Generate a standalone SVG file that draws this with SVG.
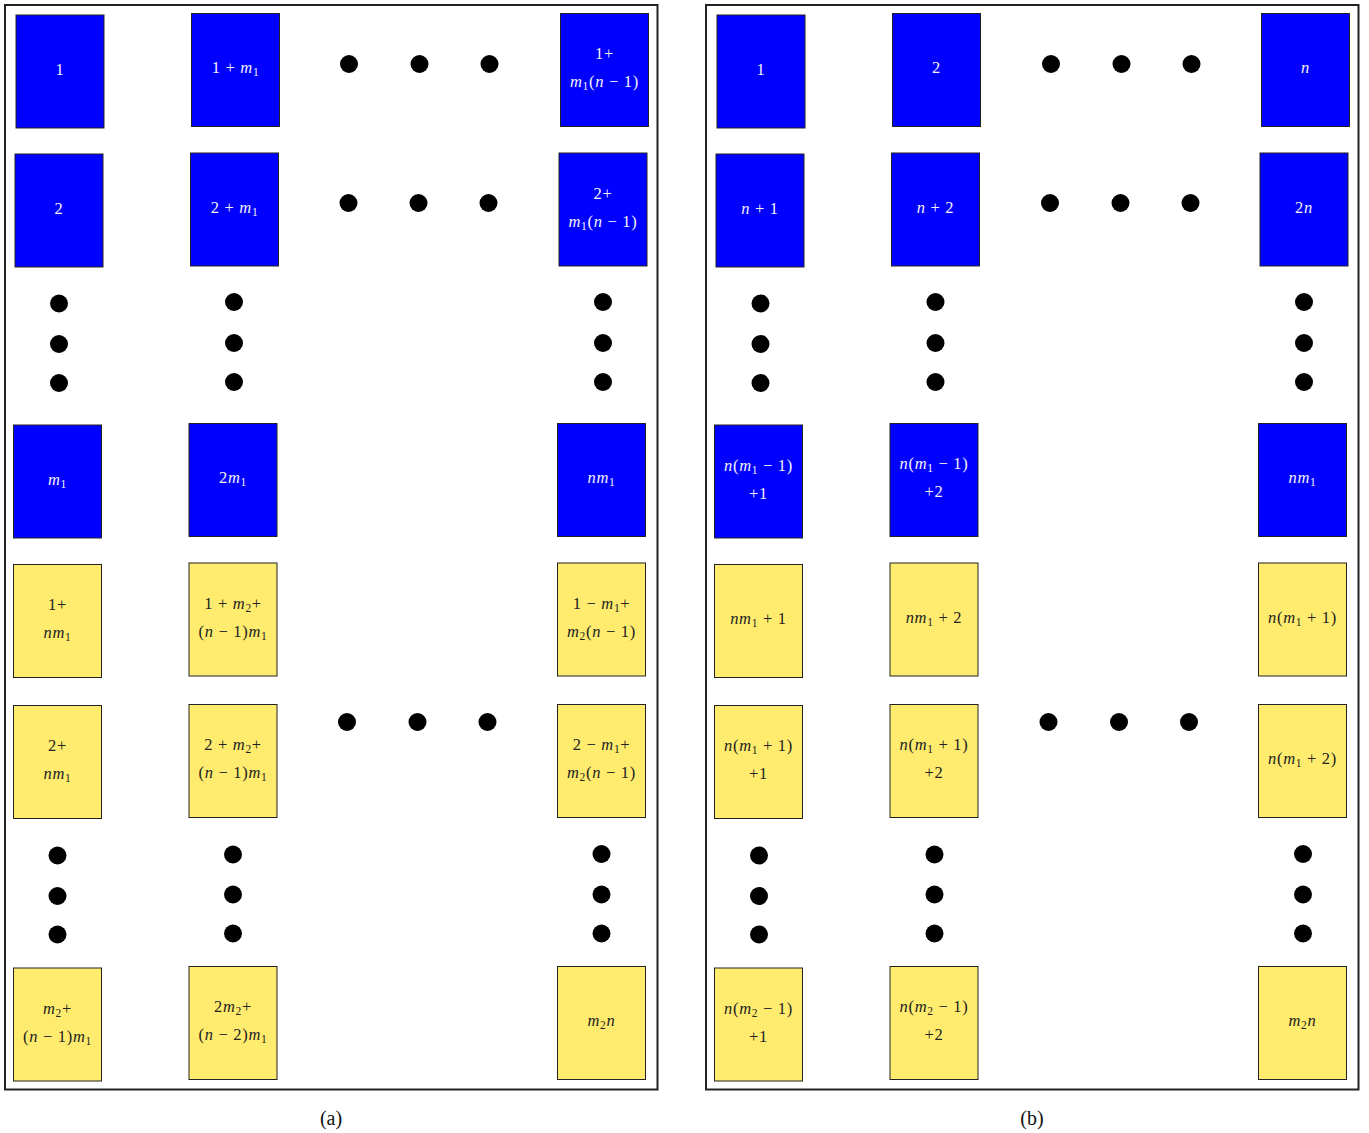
<svg xmlns="http://www.w3.org/2000/svg" width="1369" height="1133" viewBox="0 0 1369 1133">
<style>
.frame{fill:none;stroke:#222;stroke-width:2}
.blue rect{fill:#0000ff;stroke:#222;stroke-width:1}
.yel rect{fill:#ffec6e;stroke:#222;stroke-width:1}
text{font-family:"Liberation Serif","Times New Roman",serif;font-size:16.5px;letter-spacing:0.7px;text-anchor:middle}
.blue text{fill:#f4f4f4}
.yel text{fill:#222}
.i{font-style:italic}
.s{font-size:11.5px;baseline-shift:-3px}
.dot{fill:#000}
.cap{font-size:20px;letter-spacing:0;fill:#111}
</style>
<rect class="frame" x="5" y="5" width="652.5" height="1084.5"/>
<rect class="frame" x="706" y="5" width="652.5" height="1084.5"/>

<!-- panel (a) -->
<g id="a11" class="blue" transform="translate(16,15)"><rect width="88" height="113"/><text x="44" y="59.5">1</text></g>
<g id="a12" class="blue" transform="translate(191.5,13.5)"><rect width="88" height="113"/><text x="44" y="59.5">1 + <tspan class="i">m</tspan><tspan class="s">1</tspan></text></g>
<g id="a13" class="blue" transform="translate(560.5,13.5)"><rect width="88" height="113"/><text x="44" y="45.5">1+</text><text x="44" y="73.5"><tspan class="i">m</tspan><tspan class="s">1</tspan>(<tspan class="i">n</tspan> − 1)</text></g>
<g id="a21" class="blue" transform="translate(15,154)"><rect width="88" height="113"/><text x="44" y="59.5">2</text></g>
<g id="a22" class="blue" transform="translate(190.5,153)"><rect width="88" height="113"/><text x="44" y="59.5">2 + <tspan class="i">m</tspan><tspan class="s">1</tspan></text></g>
<g id="a23" class="blue" transform="translate(559,153)"><rect width="88" height="113"/><text x="44" y="45.5">2+</text><text x="44" y="73.5"><tspan class="i">m</tspan><tspan class="s">1</tspan>(<tspan class="i">n</tspan> − 1)</text></g>
<g id="a41" class="blue" transform="translate(13.5,425)"><rect width="88" height="113"/><text x="44" y="59.5"><tspan class="i">m</tspan><tspan class="s">1</tspan></text></g>
<g id="a42" class="blue" transform="translate(189,423.5)"><rect width="88" height="113"/><text x="44" y="59.5">2<tspan class="i">m</tspan><tspan class="s">1</tspan></text></g>
<g id="a43" class="blue" transform="translate(557.5,423.5)"><rect width="88" height="113"/><text x="44" y="59.5"><tspan class="i">nm</tspan><tspan class="s">1</tspan></text></g>
<g id="a51" class="yel" transform="translate(13.5,564.5)"><rect width="88" height="113"/><text x="44" y="45.5">1+</text><text x="44" y="73.5"><tspan class="i">nm</tspan><tspan class="s">1</tspan></text></g>
<g id="a52" class="yel" transform="translate(189,563)"><rect width="88" height="113"/><text x="44" y="45.5">1 + <tspan class="i">m</tspan><tspan class="s">2</tspan>+</text><text x="44" y="73.5">(<tspan class="i">n</tspan> − 1)<tspan class="i">m</tspan><tspan class="s">1</tspan></text></g>
<g id="a53" class="yel" transform="translate(557.5,563)"><rect width="88" height="113"/><text x="44" y="45.5">1 − <tspan class="i">m</tspan><tspan class="s">1</tspan>+</text><text x="44" y="73.5"><tspan class="i">m</tspan><tspan class="s">2</tspan>(<tspan class="i">n</tspan> − 1)</text></g>
<g id="a61" class="yel" transform="translate(13.5,705.5)"><rect width="88" height="113"/><text x="44" y="45.5">2+</text><text x="44" y="73.5"><tspan class="i">nm</tspan><tspan class="s">1</tspan></text></g>
<g id="a62" class="yel" transform="translate(189,704.5)"><rect width="88" height="113"/><text x="44" y="45.5">2 + <tspan class="i">m</tspan><tspan class="s">2</tspan>+</text><text x="44" y="73.5">(<tspan class="i">n</tspan> − 1)<tspan class="i">m</tspan><tspan class="s">1</tspan></text></g>
<g id="a63" class="yel" transform="translate(557.5,704.5)"><rect width="88" height="113"/><text x="44" y="45.5">2 − <tspan class="i">m</tspan><tspan class="s">1</tspan>+</text><text x="44" y="73.5"><tspan class="i">m</tspan><tspan class="s">2</tspan>(<tspan class="i">n</tspan> − 1)</text></g>
<g id="a81" class="yel" transform="translate(13.5,968)"><rect width="88" height="113"/><text x="44" y="45.5"><tspan class="i">m</tspan><tspan class="s">2</tspan>+</text><text x="44" y="73.5">(<tspan class="i">n</tspan> − 1)<tspan class="i">m</tspan><tspan class="s">1</tspan></text></g>
<g id="a82" class="yel" transform="translate(189,966.5)"><rect width="88" height="113"/><text x="44" y="45.5">2<tspan class="i">m</tspan><tspan class="s">2</tspan>+</text><text x="44" y="73.5">(<tspan class="i">n</tspan> − 2)<tspan class="i">m</tspan><tspan class="s">1</tspan></text></g>
<g id="a83" class="yel" transform="translate(557.5,966.5)"><rect width="88" height="113"/><text x="44" y="59.5"><tspan class="i">m</tspan><tspan class="s">2</tspan><tspan class="i">n</tspan></text></g>

<!-- panel (b) -->
<g id="b11" class="blue" transform="translate(717,15)"><rect width="88" height="113"/><text x="44" y="59.5">1</text></g>
<g id="b12" class="blue" transform="translate(892.5,13.5)"><rect width="88" height="113"/><text x="44" y="59.5">2</text></g>
<g id="b13" class="blue" transform="translate(1261.5,13.5)"><rect width="88" height="113"/><text x="44" y="59.5" class="i">n</text></g>
<g id="b21" class="blue" transform="translate(716,154)"><rect width="88" height="113"/><text x="44" y="59.5"><tspan class="i">n</tspan> + 1</text></g>
<g id="b22" class="blue" transform="translate(891.5,153)"><rect width="88" height="113"/><text x="44" y="59.5"><tspan class="i">n</tspan> + 2</text></g>
<g id="b23" class="blue" transform="translate(1260,153)"><rect width="88" height="113"/><text x="44" y="59.5">2<tspan class="i">n</tspan></text></g>
<g id="b41" class="blue" transform="translate(714.5,425)"><rect width="88" height="113"/><text x="44" y="45.5"><tspan class="i">n</tspan>(<tspan class="i">m</tspan><tspan class="s">1</tspan> − 1)</text><text x="44" y="73.5">+1</text></g>
<g id="b42" class="blue" transform="translate(890,423.5)"><rect width="88" height="113"/><text x="44" y="45.5"><tspan class="i">n</tspan>(<tspan class="i">m</tspan><tspan class="s">1</tspan> − 1)</text><text x="44" y="73.5">+2</text></g>
<g id="b43" class="blue" transform="translate(1258.5,423.5)"><rect width="88" height="113"/><text x="44" y="59.5"><tspan class="i">nm</tspan><tspan class="s">1</tspan></text></g>
<g id="b51" class="yel" transform="translate(714.5,564.5)"><rect width="88" height="113"/><text x="44" y="59.5"><tspan class="i">nm</tspan><tspan class="s">1</tspan> + 1</text></g>
<g id="b52" class="yel" transform="translate(890,563)"><rect width="88" height="113"/><text x="44" y="59.5"><tspan class="i">nm</tspan><tspan class="s">1</tspan> + 2</text></g>
<g id="b53" class="yel" transform="translate(1258.5,563)"><rect width="88" height="113"/><text x="44" y="59.5"><tspan class="i">n</tspan>(<tspan class="i">m</tspan><tspan class="s">1</tspan> + 1)</text></g>
<g id="b61" class="yel" transform="translate(714.5,705.5)"><rect width="88" height="113"/><text x="44" y="45.5"><tspan class="i">n</tspan>(<tspan class="i">m</tspan><tspan class="s">1</tspan> + 1)</text><text x="44" y="73.5">+1</text></g>
<g id="b62" class="yel" transform="translate(890,704.5)"><rect width="88" height="113"/><text x="44" y="45.5"><tspan class="i">n</tspan>(<tspan class="i">m</tspan><tspan class="s">1</tspan> + 1)</text><text x="44" y="73.5">+2</text></g>
<g id="b63" class="yel" transform="translate(1258.5,704.5)"><rect width="88" height="113"/><text x="44" y="59.5"><tspan class="i">n</tspan>(<tspan class="i">m</tspan><tspan class="s">1</tspan> + 2)</text></g>
<g id="b81" class="yel" transform="translate(714.5,968)"><rect width="88" height="113"/><text x="44" y="45.5"><tspan class="i">n</tspan>(<tspan class="i">m</tspan><tspan class="s">2</tspan> − 1)</text><text x="44" y="73.5">+1</text></g>
<g id="b82" class="yel" transform="translate(890,966.5)"><rect width="88" height="113"/><text x="44" y="45.5"><tspan class="i">n</tspan>(<tspan class="i">m</tspan><tspan class="s">2</tspan> − 1)</text><text x="44" y="73.5">+2</text></g>
<g id="b83" class="yel" transform="translate(1258.5,966.5)"><rect width="88" height="113"/><text x="44" y="59.5"><tspan class="i">m</tspan><tspan class="s">2</tspan><tspan class="i">n</tspan></text></g>

<g id="dots-a" class="dot">
<circle cx="349" cy="64" r="9"/><circle cx="419.5" cy="64" r="9"/><circle cx="489.5" cy="64" r="9"/>
<circle cx="348.5" cy="203" r="9"/><circle cx="418.5" cy="203" r="9"/><circle cx="488.5" cy="203" r="9"/>
<circle cx="59" cy="303.5" r="9"/><circle cx="59" cy="344" r="9"/><circle cx="59" cy="383" r="9"/>
<circle cx="234" cy="302" r="9"/><circle cx="234" cy="343" r="9"/><circle cx="234" cy="382" r="9"/>
<circle cx="603" cy="302" r="9"/><circle cx="603" cy="343" r="9"/><circle cx="603" cy="382" r="9"/>
<circle cx="347" cy="722" r="9"/><circle cx="417.5" cy="722" r="9"/><circle cx="487.5" cy="722" r="9"/>
<circle cx="57.5" cy="855.5" r="9"/><circle cx="57.5" cy="896" r="9"/><circle cx="57.5" cy="934.5" r="9"/>
<circle cx="233" cy="854.5" r="9"/><circle cx="233" cy="894.5" r="9"/><circle cx="233" cy="933.5" r="9"/>
<circle cx="601.5" cy="854" r="9"/><circle cx="601.5" cy="894.5" r="9"/><circle cx="601.5" cy="933.5" r="9"/>
</g>
<g id="dots-b" class="dot">
<circle cx="1051" cy="64" r="9"/><circle cx="1121.5" cy="64" r="9"/><circle cx="1191.5" cy="64" r="9"/>
<circle cx="1050" cy="203" r="9"/><circle cx="1120.5" cy="203" r="9"/><circle cx="1190.5" cy="203" r="9"/>
<circle cx="760.5" cy="303.5" r="9"/><circle cx="760.5" cy="344" r="9"/><circle cx="760.5" cy="383" r="9"/>
<circle cx="935.5" cy="302" r="9"/><circle cx="935.5" cy="343" r="9"/><circle cx="935.5" cy="382" r="9"/>
<circle cx="1304" cy="302" r="9"/><circle cx="1304" cy="343" r="9"/><circle cx="1304" cy="382" r="9"/>
<circle cx="1048.5" cy="722" r="9"/><circle cx="1119" cy="722" r="9"/><circle cx="1189" cy="722" r="9"/>
<circle cx="759" cy="855.5" r="9"/><circle cx="759" cy="896" r="9"/><circle cx="759" cy="934.5" r="9"/>
<circle cx="934.5" cy="854.5" r="9"/><circle cx="934.5" cy="894.5" r="9"/><circle cx="934.5" cy="933.5" r="9"/>
<circle cx="1303" cy="854" r="9"/><circle cx="1303" cy="894.5" r="9"/><circle cx="1303" cy="933.5" r="9"/>
</g>

<text class="cap" x="331" y="1125">(a)</text>
<text class="cap" x="1032" y="1125">(b)</text>
</svg>
